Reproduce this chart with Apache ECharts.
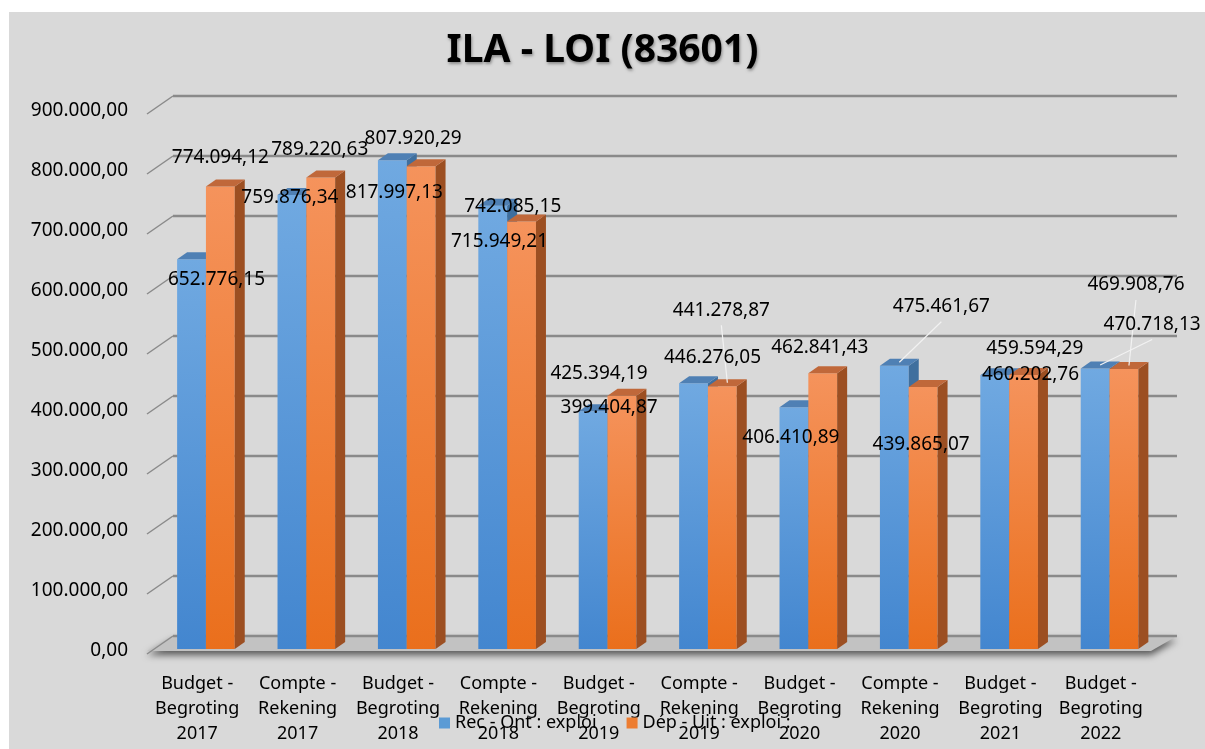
<!DOCTYPE html>
<html>
<head>
<meta charset="utf-8">
<script src="https://cdn.jsdelivr.net/npm/echarts@6/dist/echarts.min.js"></script>
<style>
    html, body { margin: 0; padding: 0; background: #fff; }
    #chart { width: 1205px; height: 749px; }
</style>
</head>
<body>
<div id="chart"></div>
<script>
// chart data
const categories = [
    'Budget -\nBegroting\n2017', 'Compte -\nRekening\n2017',
    'Budget -\nBegroting\n2018', 'Compte -\nRekening\n2018',
    'Budget -\nBegroting\n2019', 'Compte -\nRekening\n2019',
    'Budget -\nBegroting\n2020', 'Compte -\nRekening\n2020',
    'Budget -\nBegroting\n2021', 'Budget -\nBegroting\n2022'
];
const seriesNames = ['Rec - Ont : exploi', 'Dép - Uit : exploi :'];
const recValues = [652776.15, 759876.34, 817997.13, 742085.15, 399404.87, 446276.05, 406410.89, 475461.67, 459594.29, 470718.13];
const depValues = [774094.12, 789220.63, 807920.29, 715949.21, 425394.19, 441278.87, 462841.43, 439865.07, 460202.76, 469908.76];
const yTicks = [0, 100000, 200000, 300000, 400000, 500000, 600000, 700000, 800000, 900000];

// label placement (offsets from bar top, in px) - manual like in the original
const labelShift = [
    [[25, 20], [-2, 3], [2, 32], [20, 1], [16, -4], [19, -26], [-3, 30], [47, -59], [40, -27], [57, -44]],
    [[0, -29], [-1, -28], [-8, -28], [-22, 20], [-23, -22], [-1, -76], [-3, -26], [-2, 58], [7, 0], [12, -84]]
];
const leaders = [
    [0, 0, 0, 0, 0, 0, 0, 1, 0, 1],
    [0, 0, 0, 0, 0, 1, 0, 0, 0, 1]
];

const DX = 10, DY = -7;      // bar depth
const WX = 26, WY = -15;     // back wall offset

const colors = [
    { front: ['#70a9e1', '#4386cf'], side: '#3f6f9e', top: '#4f80b4' },
    { front: ['#f5935c', '#ea6f1c'], side: '#9c4f22', top: '#c0683a' }
];

function fmt(v) {
    const parts = v.toFixed(2).split('.');
    return parts[0].replace(/\B(?=(\d{3})+(?!\d))/g, '.') + ',' + parts[1];
}

function barRender(s) {
    return function (params, api) {
        const i = api.value(0);
        const val = api.value(1);
        const base = api.coord([i, 0]);
        const top = api.coord([i, val]);
        const band = api.size([1, 0])[0];
        const w = band * 0.287;
        const x0 = base[0] - band * 0.2 + s * w;
        const c = colors[s];
        const children = [
            {
                type: 'rect',
                shape: { x: x0, y: top[1], width: w, height: base[1] - top[1] - 2 },
                style: {
                    fill: new echarts.graphic.LinearGradient(0, 0, 0, 1, [
                        { offset: 0, color: c.front[0] },
                        { offset: 1, color: c.front[1] }
                    ])
                }
            },
            {
                type: 'polygon',
                shape: { points: [[x0 + w, top[1]], [x0 + w + DX, top[1] + DY], [x0 + w + DX, base[1] - 2 + DY], [x0 + w, base[1] - 2]] },
                style: { fill: c.side }
            },
            {
                type: 'polygon',
                shape: { points: [[x0, top[1]], [x0 + DX, top[1] + DY], [x0 + w + DX, top[1] + DY], [x0 + w, top[1]]] },
                style: { fill: c.top }
            }
        ];
        const off = labelShift[s][i];
        const lx = x0 + w / 2 + off[0];
        const ly = top[1] + off[1];
        if (leaders[s][i]) {
            children.push({
                type: 'line',
                z2: 90,
                shape: { x1: lx, y1: ly + 15, x2: x0 + w / 2 + DX / 2, y2: top[1] + DY / 2 },
                style: { stroke: '#f2f2f2', lineWidth: 1.2 }
            });
        }
        children.push({
            type: 'text',
            z2: 100,
            x: lx,
            y: ly,
            style: {
                text: fmt(val),
                fill: '#000',
                font: '19px "Noto Sans"',
                align: 'center',
                verticalAlign: 'middle'
            }
        });
        return { type: 'group', children: children };
    };
}

function gridRender(params, api) {
    const v = api.value(0);
    const p = api.coord([0, v]);
    const left = params.coordSys.x;
    const right = params.coordSys.x + params.coordSys.width;
    const y = p[1];
    const children = [];
    if (v === 0) {
        children.push({
            type: 'polygon',
            shape: { points: [[left, y], [left + WX, y + WY], [right + WX, y + WY], [right, y]] },
            style: {
                fill: '#c2c2c2',
                shadowBlur: 7,
                shadowOffsetY: 4,
                shadowColor: 'rgba(0,0,0,0.6)'
            }
        });
    }
    children.push({
        type: 'polyline',
        shape: { points: [[left, y + 3], [left + WX, y + WY]] },
        style: { stroke: '#8a8a8a', lineWidth: 1.5, fill: null }
    });
    children.push({
        type: 'line',
        shape: { x1: left + WX, y1: y + WY, x2: right + WX, y2: y + WY },
        style: { stroke: '#8a8a8a', lineWidth: 2.5 }
    });
    return { type: 'group', children: children };
}

const myChart = echarts.init(document.getElementById('chart'));
myChart.setOption({
    animation: false,
    backgroundColor: '#fff',
    graphic: [{
        type: 'rect',
        z: -10,
        shape: { x: 9, y: 12, width: 1196, height: 737 },
        style: { fill: '#d9d9d9' }
    }],
    title: {
        text: 'ILA - LOI (83601)',
        left: 'center',
        top: 26,
        textStyle: {
            fontFamily: 'Noto Sans',
            fontSize: 39,
            fontWeight: 'bold',
            color: '#000',
            textShadowColor: 'rgba(0,0,0,0.35)',
            textShadowBlur: 3,
            textShadowOffsetX: 1,
            textShadowOffsetY: 2
        }
    },
    legend: {
        data: seriesNames,
        left: 434,
        top: 709,
        icon: 'rect',
        itemWidth: 11,
        itemHeight: 11,
        itemGap: 30,
        textStyle: { fontFamily: 'Noto Sans', fontSize: 18, color: '#000' }
    },
    grid: {
        left: 147,
        right: 54,
        top: 111,
        bottom: 98
    },
    xAxis: {
        type: 'category',
        data: categories,
        axisLine: { show: false },
        axisTick: { show: false },
        axisLabel: {
            interval: 0,
            margin: 20,
            fontFamily: 'Noto Sans',
            fontSize: 18,
            lineHeight: 25,
            color: '#000'
        }
    },
    yAxis: {
        type: 'value',
        min: 0,
        max: 900000,
        interval: 100000,
        axisLine: { show: false },
        axisTick: { show: false },
        splitLine: { show: false },
        axisLabel: {
            margin: 19,
            fontFamily: 'Noto Sans',
            fontSize: 19,
            color: '#000',
            formatter: function (v) { return fmt(v); }
        }
    },
    series: [
        {
            type: 'custom',
            name: 'grid',
            silent: true,
            renderItem: gridRender,
            encode: { y: 0 },
            data: yTicks.map(v => [v]),
            z: 1
        },
        {
            type: 'custom',
            name: seriesNames[0],
            renderItem: barRender(0),
            encode: { x: 0, y: 1 },
            itemStyle: { color: '#5b9bd5' },
            data: recValues.map((v, i) => [i, v]),
            z: 2
        },
        {
            type: 'custom',
            name: seriesNames[1],
            renderItem: barRender(1),
            encode: { x: 0, y: 1 },
            itemStyle: { color: '#ed7d31' },
            data: depValues.map((v, i) => [i, v]),
            z: 2
        }
    ]
});
</script>
</body>
</html>
